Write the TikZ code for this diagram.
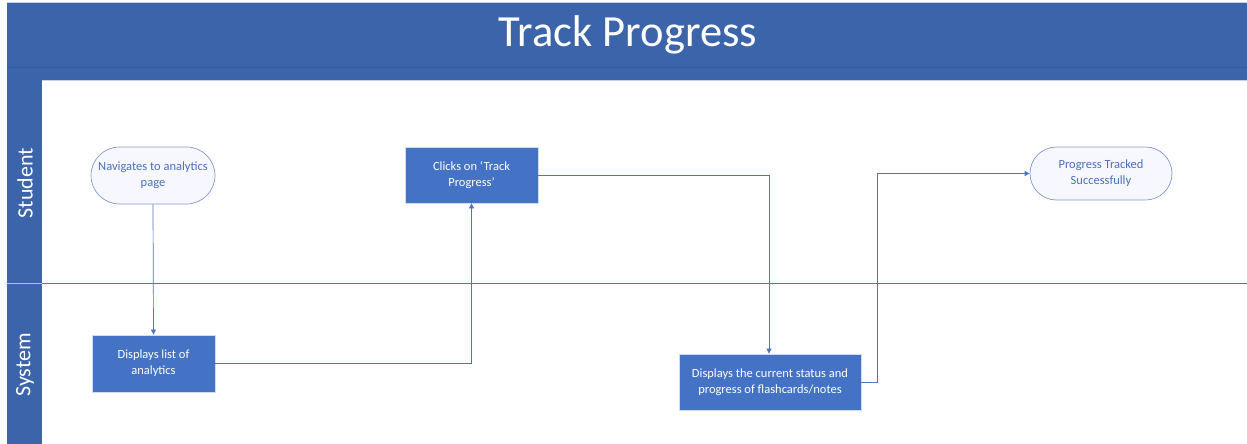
\documentclass[tikz,border=0pt]{standalone}
\usepackage{fontspec}
\setmainfont{Carlito}
\usetikzlibrary{arrows.meta,shapes.misc}
\definecolor{hdr}{HTML}{3C64AA}
\definecolor{hdrline}{HTML}{34599A}
\definecolor{boxfill}{HTML}{4472C4}
\definecolor{lnc}{HTML}{4A74C4}
\definecolor{termb}{HTML}{7E9BD6}
\definecolor{termtxt}{HTML}{4A6FC0}
\tikzset{
  procbox/.style={draw=white!75!boxfill, line width=0.8pt, fill=boxfill, text=white,
     font=\fontsize{12.5}{16}\selectfont, align=center, inner sep=0pt},
  termbox/.style={rounded rectangle, draw=termb, line width=0.7pt, fill=white!97!blue, text=termtxt,
     font=\fontsize{12.5}{16}\selectfont, align=center, inner sep=0pt},
  flow/.style={draw=lnc, line width=0.7pt, -{Triangle[length=5pt,width=5pt]}},
  lanelbl/.style={text=white, font=\fontsize{22}{24}\selectfont, rotate=90},
}
\begin{document}
\begin{tikzpicture}[x=1pt,y=-1pt]
\useasboundingbox (0,0) rectangle (1247,444);
\fill[white] (0,0) rectangle (1247,444);
% header
\fill[hdr] (7,2) rectangle (1247,80);
\draw[hdrline, line width=0.8pt] (7,67) -- (1247,67);
\draw[white!70!hdr, line width=0.6pt] (7,2) -- (1247,2);
\draw[white!70!hdr, line width=0.6pt] (42,80.5) -- (1247,80.5);
\node[text=white, font=\fontsize{44.5}{46}\selectfont] (title) at (628,35) {Track Progress};
% lane bar
\fill[hdr] (7,80) rectangle (42,444);
\draw[white!60!hdr, line width=0.6pt] (7,283) -- (42,283);
\draw[lnc, line width=0.7pt] (42,283) -- (1247,283);
\node[lanelbl] (student) at (25,183) {Student};
\node[lanelbl] (system) at (25,365) {System};
% nodes
\node[termbox, minimum width=124pt, minimum height=57pt] (nav) at (153,175.5) {Navigates to analytics\\page};
\node[procbox, minimum width=123pt, minimum height=57pt] (list) at (153.5,363.5) {Displays list of\\analytics};
\node[procbox, minimum width=133pt, minimum height=56pt] (click) at (471.5,175) {Clicks on ‘Track\\Progress’};
\node[procbox, minimum width=182pt, minimum height=56pt] (disp) at (770,382) {Displays the current status and\\progress of flashcards/notes};
\node[termbox, minimum width=142pt, minimum height=53pt] (done) at (1101,173.5) {Progress Tracked\\Successfully};
% connectors
\draw[flow] (nav.south) -- (list.north);
\draw[flow] (list.east) -| (click.south);
\draw[flow] (click.east) -| ([xshift=-1pt]disp.north);
\draw[flow] (disp.east) -- ++(16,0) |- (done.west);
\end{tikzpicture}
\end{document}
